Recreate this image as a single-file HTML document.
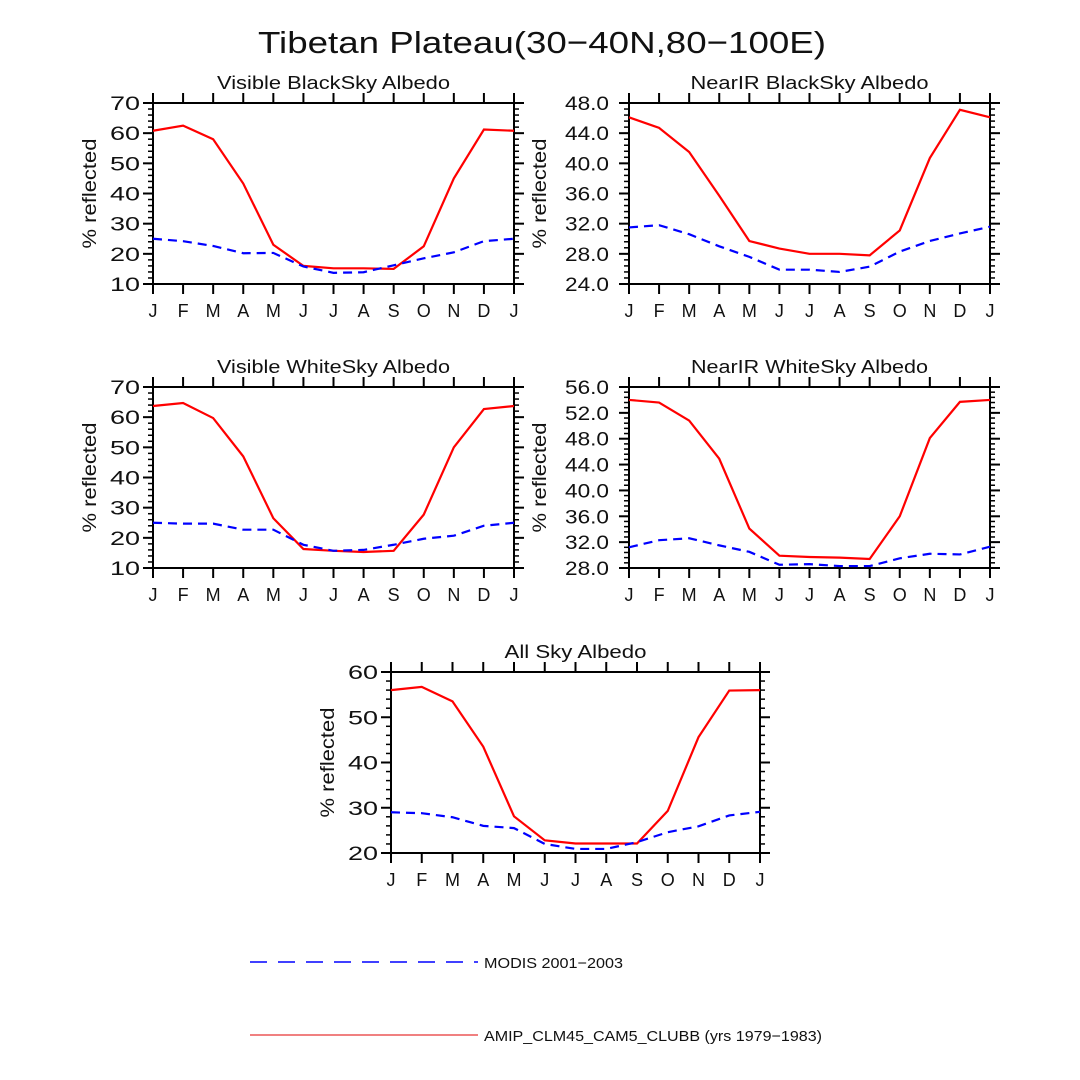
<!DOCTYPE html>
<html><head><meta charset="utf-8"><style>
body{margin:0;background:#fff;}
svg{display:block;font-family:"Liberation Sans",sans-serif;}
</style></head><body>
<svg id="chart" width="1080" height="1080" viewBox="0 0 1080 1080">
<text x="542" y="53" text-anchor="middle" font-size="31" fill="#111" textLength="568" lengthAdjust="spacingAndGlyphs">Tibetan Plateau(30−40N,80−100E)</text>
<g id="panels"></g>
<g>
<line x1="250" y1="962" x2="478" y2="962" stroke="#0000ff" stroke-width="1.5" stroke-dasharray="17,11"/>
<text x="484" y="968" font-size="15" fill="#111" textLength="139" lengthAdjust="spacingAndGlyphs">MODIS 2001−2003</text>
<line x1="250" y1="1035" x2="478" y2="1035" stroke="#e00000" stroke-width="1"/>
<text x="484" y="1041" font-size="15" fill="#111" textLength="338" lengthAdjust="spacingAndGlyphs">AMIP_CLM45_CAM5_CLUBB (yrs 1979−1983)</text>
</g>
</svg>
<script>
const months = ["J","F","M","A","M","J","J","A","S","O","N","D","J"];
const visBlackModel = [60.8,62.5,58,43.3,23,16,15.2,15.2,15,22.5,45,61.2,60.8];
const visBlackModis = [25,24.2,22.6,20.2,20.3,15.8,13.7,13.9,16.2,18.5,20.5,24.2,25];
const nirBlackModel = [46.1,44.7,41.5,35.7,29.7,28.7,28.0,28.0,27.8,31.1,40.7,47.1,46.1];
const nirBlackModis = [31.5,31.8,30.6,29,27.6,25.9,25.9,25.6,26.3,28.3,29.7,30.7,31.6];
const visWhiteModel = [63.7,64.7,59.7,47,26.5,16.3,15.7,15.3,15.7,27.7,50,62.7,63.7];
const visWhiteModis = [25,24.7,24.7,22.7,22.7,17.7,15.7,16,17.7,19.7,20.7,24,25];
const nirWhiteModel = [54,53.6,50.8,44.9,34.1,29.9,29.7,29.6,29.4,36,48.1,53.7,54];
const nirWhiteModis = [31.2,32.3,32.6,31.5,30.5,28.5,28.6,28.3,28.3,29.5,30.2,30.1,31.3];
const allSkyModel = [56,56.7,53.5,43.5,28.1,22.8,22.1,22.1,22.1,29.3,45.6,55.9,56];
const allSkyModis = [29,28.8,27.9,26,25.5,22,20.9,20.9,22.4,24.6,25.9,28.3,29.1];
const visTicks = [10,20,30,40,50,60,70];
const nirBlackTicks = [24,28,32,36,40,44,48];
const nirWhiteTicks = [28,32,36,40,44,48,52,56];
const allTicks = [20,30,40,50,60];

const NS="http://www.w3.org/2000/svg";
const root=document.getElementById('panels');
function mk(tag,attrs,parent){const e=document.createElementNS(NS,tag);for(const k in attrs)e.setAttribute(k,attrs[k]);parent.appendChild(e);return e;}

function panel(key,title,titleLen,x0,y0,w,h,ticks,dec,minorStep,model,modis){
  const g=mk('g',{},root);
  
  
  const ymin=ticks[0],ymax=ticks[ticks.length-1];
  const X=i=>x0+i*w/(months.length-1);
  const Y=v=>y0+h-(v-ymin)/(ymax-ymin)*h;
  const t=mk('text',{x:x0+w/2,y:y0-14,'text-anchor':'middle','font-size':18,fill:'#111',textLength:titleLen,lengthAdjust:'spacingAndGlyphs'},g);
  t.textContent=title;
  
  
  const fr=mk('rect',{x:x0,y:y0,width:w,height:h,fill:'none',stroke:'#000','stroke-width':2},g);
  
  
  for(let v=ymin;v<=ymax+1e-6;v+=minorStep){
    const y=Y(v);
    mk('line',{x1:x0-5,y1:y,x2:x0,y2:y,stroke:'#000','stroke-width':1.5},g);
    mk('line',{x1:x0+w,y1:y,x2:x0+w+5,y2:y,stroke:'#000','stroke-width':1.5},g);
  }
  ticks.forEach(v=>{
    const y=Y(v);
    mk('line',{x1:x0-10,y1:y,x2:x0,y2:y,stroke:'#000','stroke-width':2},g);
    mk('line',{x1:x0+w,y1:y,x2:x0+w+10,y2:y,stroke:'#000','stroke-width':2},g);
    const s=v.toFixed(dec);
    const l=mk('text',{x:dec?x0-20:x0-13,y:y+7,'text-anchor':'end','font-size':19,fill:'#111',textLength:dec?44:30,lengthAdjust:'spacingAndGlyphs'},g);
    l.textContent=s;
    
    
  });
  months.forEach((m,i)=>{
    const x=X(i);
    mk('line',{x1:x,y1:y0+h,x2:x,y2:y0+h+10,stroke:'#000','stroke-width':2},g);
    mk('line',{x1:x,y1:y0-10,x2:x,y2:y0,stroke:'#000','stroke-width':2},g);
    const l=mk('text',{x:x,y:y0+h+33,'text-anchor':'middle','font-size':18,fill:'#111'},g);
    l.textContent=m;
    
    
  });
  const yt=mk('text',{x:0,y:0,'text-anchor':'middle','font-size':19,fill:'#111',textLength:110,lengthAdjust:'spacingAndGlyphs',transform:`translate(${dec?x0-83:x0-57},${y0+h/2}) rotate(-90)`},g);
  yt.textContent='% reflected';
  
  
  const pm=mk('polyline',{points:model.map((v,i)=>X(i)+','+Y(v)).join(' '),fill:'none',stroke:'#ff0000','stroke-width':2.2},g);
  
  
  const pd=mk('polyline',{points:modis.map((v,i)=>X(i)+','+Y(v)).join(' '),fill:'none',stroke:'#0000ff','stroke-width':2.2,'stroke-dasharray':'9,6'},g);
  
  
}
panel('visible-blacksky','Visible BlackSky Albedo',233,153,103,361,181,visTicks,0,2,visBlackModel,visBlackModis);
panel('nearir-blacksky','NearIR BlackSky Albedo',238,629,103,361,181,nirBlackTicks,1,0.8,nirBlackModel,nirBlackModis);
panel('visible-whitesky','Visible WhiteSky Albedo',233,153,387,361,181,visTicks,0,2,visWhiteModel,visWhiteModis);
panel('nearir-whitesky','NearIR WhiteSky Albedo',237,629,387,361,181,nirWhiteTicks,1,0.8,nirWhiteModel,nirWhiteModis);
panel('all-sky','All Sky Albedo',142,391,672,369,181,allTicks,0,2,allSkyModel,allSkyModis);
</script>
</body></html>
